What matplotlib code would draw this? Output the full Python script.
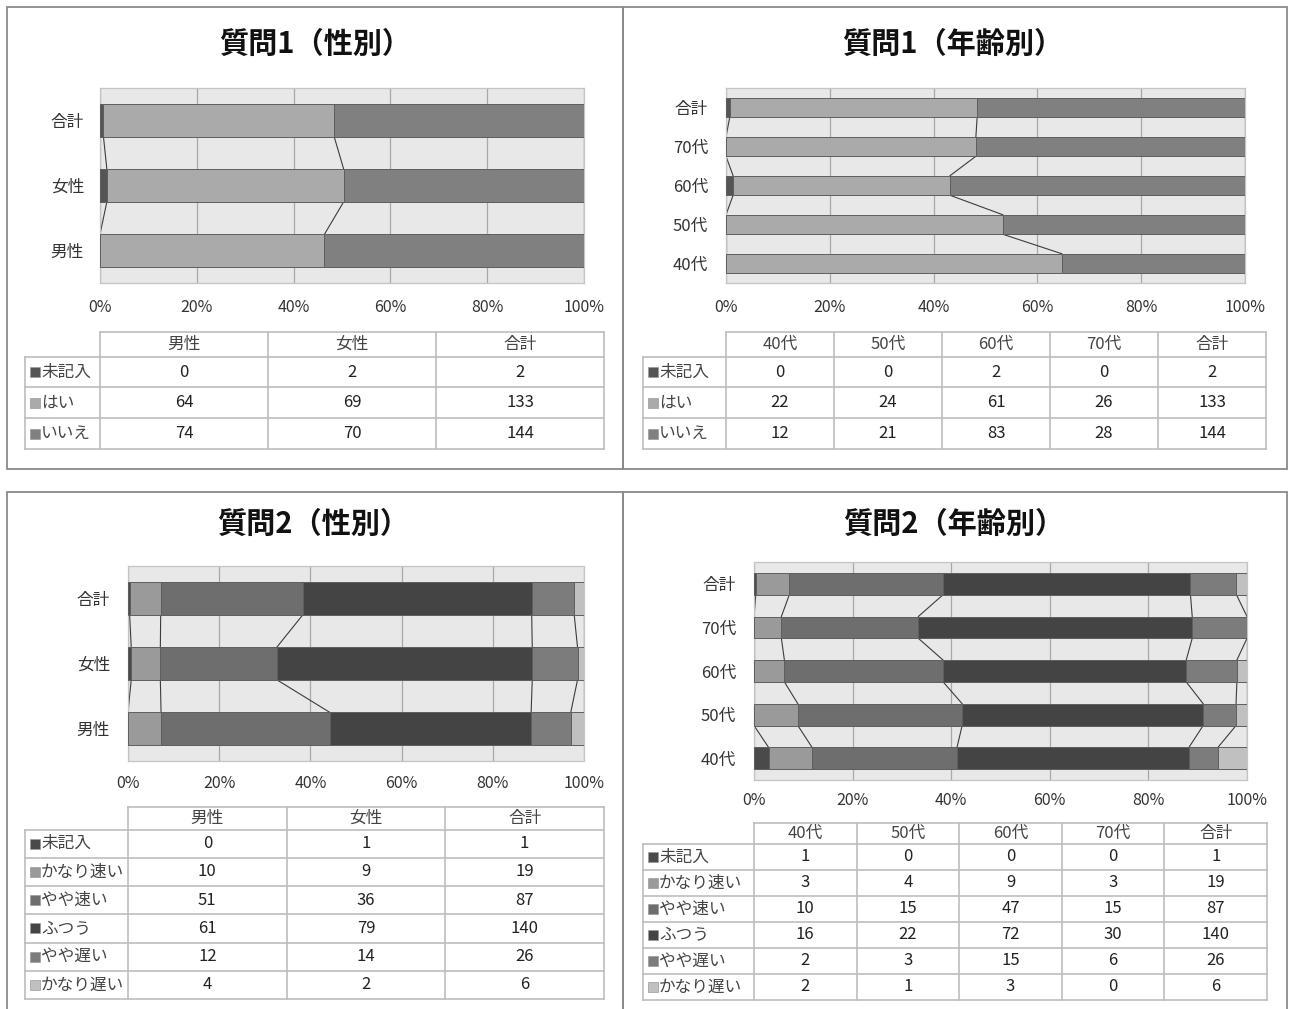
import numpy as np
import matplotlib
matplotlib.use('Agg')
import matplotlib.pyplot as plt
from matplotlib.patches import Rectangle

plt.rcParams['font.family'] = ['Noto Sans CJK JP', 'DejaVu Sans']

q1_series = ['未記入', 'はい', 'いいえ']
q2_series = ['未記入', 'かなり速い', 'やや速い', 'ふつう', 'やや遅い', 'かなり遅い']
gender_cats = ['男性', '女性', '合計']
age_cats = ['40代', '50代', '60代', '70代', '合計']

q1_gender_counts = [[0, 2, 2], [64, 69, 133], [74, 70, 144]]
q1_age_counts = [[0, 0, 2, 0, 2], [22, 24, 61, 26, 133], [12, 21, 83, 28, 144]]
q2_gender_counts = [[0, 1, 1], [10, 9, 19], [51, 36, 87], [61, 79, 140],
                    [12, 14, 26], [4, 2, 6]]
q2_age_counts = [[1, 0, 0, 0, 1], [3, 4, 9, 3, 19], [10, 15, 47, 15, 87],
                 [16, 22, 72, 30, 140], [2, 3, 15, 6, 26], [2, 1, 3, 0, 6]]

q1_colors = ['#555555', '#aaaaaa', '#808080']
q2_colors = ['#4a4a4a', '#9a9a9a', '#6e6e6e', '#444444', '#7c7c7c', '#c0c0c0']

W, H = 1291, 1009
fig = plt.figure(figsize=(W / 100, H / 100), dpi=100)


def px_axes(x0, y0, x1, y1):
    return fig.add_axes([x0 / W, 1 - y1 / H, (x1 - x0) / W, (y1 - y0) / H])


def draw_panel(title, cats, series, counts, colors, lay):
    # panel frame
    bx0, by0, bx1, by1 = lay['box']
    fig.add_artist(Rectangle((bx0 / W, 1 - by1 / H), (bx1 - bx0) / W, (by1 - by0) / H,
                             transform=fig.transFigure, fill=False,
                             edgecolor='#8a8a8a', linewidth=1.3))
    tx, ty = lay['title']
    fig.text(tx / W, 1 - ty / H, title, ha='center', va='center',
             fontsize=21, fontweight='bold', color='#111111')

    # 100% stacked bars
    ax = px_axes(*lay['plot'])
    arr = np.array(counts, dtype=float)
    shares = arr / arr.sum(axis=0)
    ncat = len(cats)
    y = np.arange(ncat)
    h = 0.5
    left = np.zeros(ncat)
    for k in range(len(series)):
        lw = np.where(shares[k] > 0, 0.7, 0.0)
        ax.barh(y, shares[k], left=left, height=h, color=colors[k],
                edgecolor='#5e5e5e', linewidth=lw, zorder=3)
        left = left + shares[k]

    # series lines between bars
    cum = np.cumsum(shares, axis=0)
    for i in range(ncat - 1):
        for k in range(len(series)):
            ax.plot([cum[k, i + 1], cum[k, i]], [y[i + 1] - h / 2, y[i] + h / 2],
                    color='#3c3c3c', linewidth=0.8, zorder=2)

    ax.set_xlim(0, 1)
    ax.set_ylim(-0.5, ncat - 0.5)
    ax.set_facecolor('#e8e8e8')
    ticks = np.linspace(0, 1, 6)
    ax.set_xticks(ticks)
    ax.set_xticklabels(['%d%%' % round(t * 100) for t in ticks])
    ax.set_yticks(y)
    ax.set_yticklabels(cats)
    ax.grid(axis='x', color='#a8a8a8', linewidth=0.9, zorder=1)
    ax.set_axisbelow(True)
    ax.tick_params(axis='x', length=0, pad=lay['xpad'], labelsize=11.5, labelcolor='#333333')
    ax.tick_params(axis='y', length=0, pad=lay['ypad'], labelsize=12, labelcolor='#333333')
    for s in ax.spines.values():
        s.set_color('#c4c4c4')
        s.set_linewidth(0.9)

    # data table
    xl, yt, xd, xr, yb = lay['table']
    colw = (xr - xd) / ncat
    hw = (xd - xl) / colw
    hh = 0.8
    nrow = len(series)
    tax = px_axes(xl, yt, xr, yb)
    tax.set_xlim(-hw, ncat)
    tax.set_ylim(hh + nrow, 0)
    tax.axis('off')
    lc = '#bdbdbd'
    tax.plot([0, ncat], [0, 0], color=lc, lw=1.2, clip_on=False)
    for r in range(nrow + 1):
        tax.plot([-hw, ncat], [hh + r, hh + r], color=lc, lw=1.2, clip_on=False)
    tax.plot([-hw, -hw], [hh, hh + nrow], color=lc, lw=1.2, clip_on=False)
    for c in range(ncat + 1):
        tax.plot([c, c], [0, hh + nrow], color=lc, lw=1.2, clip_on=False)
    for j, cat in enumerate(cats):
        tax.text(j + 0.5, hh / 2, cat, ha='center', va='center',
                 fontsize=12, color='#444444')
    for k, name in enumerate(series):
        yc = hh + k + 0.5
        tax.plot([-hw + 10 / colw], [yc], marker='s', markersize=7,
                 color=colors[k], markeredgecolor='#9a9a9a', markeredgewidth=0.5)
        tax.text(-hw + 16 / colw, yc, name, ha='left', va='center',
                 fontsize=12, color='#444444')
        for j in range(ncat):
            tax.text(j + 0.5, yc, str(counts[k][j]), ha='center', va='center',
                     fontsize=12, color='#222222')


layouts = [
    dict(box=(7, 7, 623, 469), title=(315, 44), plot=(100, 88, 584, 283),
         xpad=11.5, ypad=11.5, table=(25, 332, 100, 604, 449)),
    dict(box=(623, 7, 1287, 469), title=(953, 44), plot=(726, 88, 1245, 283),
         xpad=11.5, ypad=13, table=(643, 332, 726, 1266, 449)),
    dict(box=(7, 492, 623, 1030), title=(313, 524), plot=(128, 566, 584, 761),
         xpad=10, ypad=13, table=(25, 807, 128, 604, 999)),
    dict(box=(623, 492, 1287, 1030), title=(954, 524), plot=(754, 562, 1247, 780),
         xpad=8.5, ypad=13, table=(643, 823, 754, 1267, 1000)),
]

draw_panel('質問1（性別）', gender_cats, q1_series, q1_gender_counts, q1_colors, layouts[0])
draw_panel('質問1（年齢別）', age_cats, q1_series, q1_age_counts, q1_colors, layouts[1])
draw_panel('質問2（性別）', gender_cats, q2_series, q2_gender_counts, q2_colors, layouts[2])
draw_panel('質問2（年齢別）', age_cats, q2_series, q2_age_counts, q2_colors, layouts[3])

fig.savefig('out.png', dpi=100, facecolor='white')
